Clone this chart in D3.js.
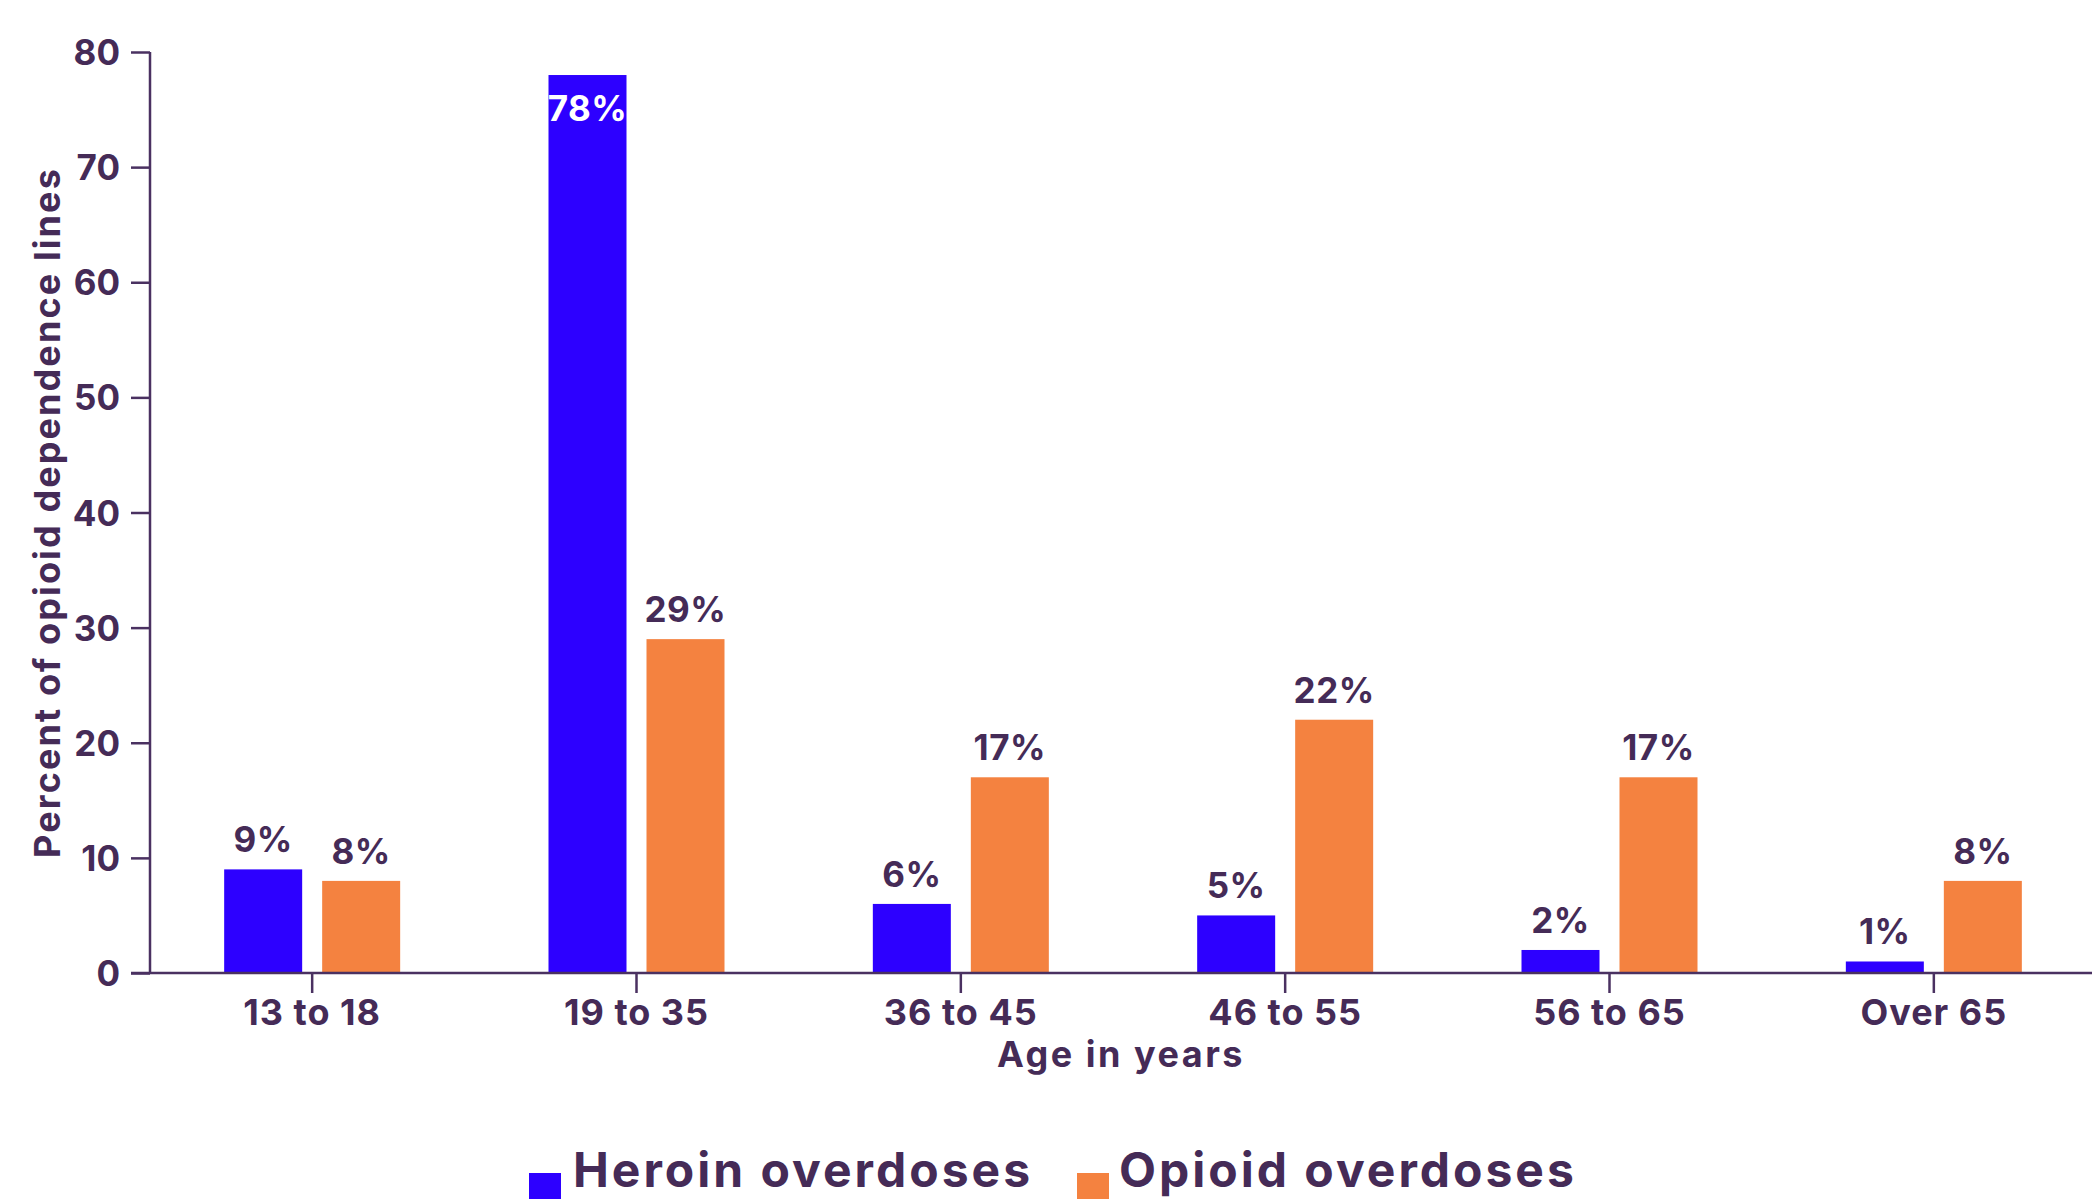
<!DOCTYPE html>
<html>
<head>
<meta charset="utf-8">
<script src="https://cdn.jsdelivr.net/npm/d3@7"></script>
<style>
  html, body { margin: 0; padding: 0; background: #fff; }
  svg { display: block; }
  text { font-family: Inter, "Open Sans", sans-serif; font-weight: 700; fill: #452b57; }
</style>
</head>
<body>
<svg id="chart" width="2092" height="1199"></svg>
<script>
const categories = ["13 to 18", "19 to 35", "36 to 45", "46 to 55", "56 to 65", "Over 65"];
const heroinValues = [9, 78, 6, 5, 2, 1];
const opioidValues = [8, 29, 17, 22, 17, 8];
const yTicks = [0, 10, 20, 30, 40, 50, 60, 70, 80];
const seriesNames = ["Heroin overdoses", "Opioid overdoses"];
const seriesColors = ["#2d00ff", "#f48240"];
const yTitle = "Percent of opioid dependence lines";
const xTitle = "Age in years";

const W = 2092, H = 1199;
const margin = { left: 150, top: 52 };
const axisColor = "#4a3161";
const textColor = "#452b57";

const svg = d3.select("#chart");

const x = d3.scaleBand().domain(categories).range([margin.left, 2096]).paddingInner(0).paddingOuter(0);
const y = d3.scaleLinear().domain([0, 80]).range([973, margin.top]);

const barW = 78, gap = 20;

// Bars
const groups = svg.append("g").selectAll("g").data(categories).join("g")
  .attr("transform", d => `translate(${x(d) + x.bandwidth() / 2},0)`);

const seriesData = [heroinValues, opioidValues];
seriesData.forEach((vals, si) => {
  groups.append("rect")
    .attr("x", si === 0 ? -gap / 2 - barW : gap / 2)
    .attr("width", barW)
    .attr("y", (d, i) => y(vals[i]))
    .attr("height", (d, i) => y(0) - y(vals[i]))
    .attr("fill", seriesColors[si]);
  groups.append("text")
    .attr("x", si === 0 ? -gap / 2 - barW / 2 : gap / 2 + barW / 2)
    .attr("y", (d, i) => vals[i] > 60 ? y(vals[i]) + 46 : y(vals[i]) - 17)
    .attr("text-anchor", "middle")
    .style("font-size", "35px")
    .style("letter-spacing", "0.5px")
    .style("fill", (d, i) => vals[i] > 60 ? "#ffffff" : textColor)
    .text((d, i) => vals[i] + "%");
});

// Y axis
const yAxis = svg.append("g")
  .attr("transform", `translate(${margin.left},0)`)
  .call(d3.axisLeft(y).tickValues(yTicks).tickSize(19).tickPadding(11).tickFormat(d3.format("d")));
yAxis.select(".domain").attr("stroke", axisColor).attr("stroke-width", 2.5).attr("d", `M0,${y(80)}V${y(0)}`);
yAxis.selectAll(".tick line").attr("stroke", axisColor).attr("stroke-width", 2.5);
yAxis.selectAll(".tick text").style("font-size", "35px").style("font-family", "Inter, sans-serif").style("font-weight", 700).attr("fill", textColor).attr("dy", "0.36em");

// X axis
const xAxis = svg.append("g")
  .attr("transform", `translate(0,${y(0)})`)
  .call(d3.axisBottom(x).tickSize(20).tickPadding(6));
xAxis.select(".domain").attr("stroke", axisColor).attr("stroke-width", 2.5).attr("d", `M${margin.left - 19},0H${W}`);
xAxis.selectAll(".tick line").attr("stroke", axisColor).attr("stroke-width", 2.5);
xAxis.selectAll(".tick text").style("font-size", "36px").style("letter-spacing", "1px").style("font-family", "Inter, sans-serif").style("font-weight", 700).attr("fill", textColor);

// Axis titles
svg.append("text")
  .attr("transform", `translate(60,${(y(0) + y(80)) / 2}) rotate(-90)`)
  .attr("text-anchor", "middle")
  .style("font-size", "36px")
  .style("letter-spacing", "2.1px")
  .text(yTitle);

svg.append("text")
  .attr("x", (margin.left + W) / 2)
  .attr("y", 1067)
  .attr("text-anchor", "middle")
  .style("font-size", "36px")
  .style("letter-spacing", "2.5px")
  .text(xTitle);

// Legend
const legendItems = [
  { name: seriesNames[0], color: seriesColors[0], sx: 529, tx: 573 },
  { name: seriesNames[1], color: seriesColors[1], sx: 1077, tx: 1119 }
];
const lg = svg.append("g");
legendItems.forEach(it => {
  lg.append("rect").attr("x", it.sx).attr("y", 1173).attr("width", 32).attr("height", 32).attr("fill", it.color);
  lg.append("text").attr("x", it.tx).attr("y", 1187).style("font-size", "48px").style("letter-spacing", "3px").text(it.name);
});
</script>
</body>
</html>
